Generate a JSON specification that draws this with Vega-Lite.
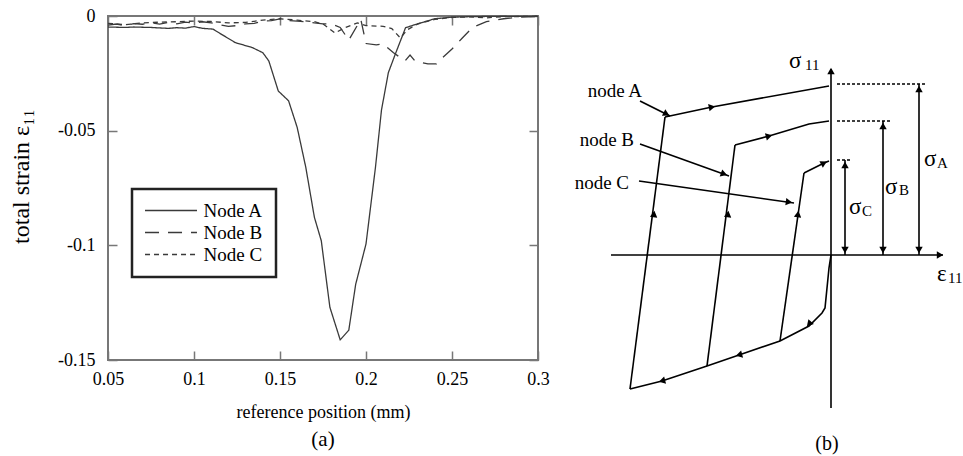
{
  "$schema": "https://vega.github.io/schema/vega-lite/v6.json",
  "background": "white",
  "padding": {"left": 8, "top": 6, "right": 0, "bottom": 0},
  "bounds": "flush",
  "spacing": 20,
  "config": {
    "font": "Liberation Serif",
    "view": {"stroke": "#777777", "strokeWidth": 2},
    "legend": {"strokeWidth": 2.5}
  },
  "datasets": {
    "strain": [
      {"node":"Node A","x":0.05,"y":-0.0048},{"node":"Node A","x":0.055,"y":-0.0049},{"node":"Node A","x":0.06,"y":-0.005},{"node":"Node A","x":0.065,"y":-0.0048},{"node":"Node A","x":0.07,"y":-0.0049},{"node":"Node A","x":0.075,"y":-0.005},{"node":"Node A","x":0.08,"y":-0.0052},{"node":"Node A","x":0.085,"y":-0.0054},{"node":"Node A","x":0.09,"y":-0.0051},{"node":"Node A","x":0.095,"y":-0.0053},{"node":"Node A","x":0.1,"y":-0.0046},{"node":"Node A","x":0.105,"y":-0.0054},{"node":"Node A","x":0.111,"y":-0.0057},{"node":"Node A","x":0.116,"y":-0.008},{"node":"Node A","x":0.124,"y":-0.0116},{"node":"Node A","x":0.134,"y":-0.0138},{"node":"Node A","x":0.14,"y":-0.016},{"node":"Node A","x":0.1435,"y":-0.0196},{"node":"Node A","x":0.149,"y":-0.0327},{"node":"Node A","x":0.155,"y":-0.037},{"node":"Node A","x":0.16,"y":-0.0486},{"node":"Node A","x":0.165,"y":-0.066},{"node":"Node A","x":0.17,"y":-0.0878},{"node":"Node A","x":0.174,"y":-0.098},{"node":"Node A","x":0.179,"y":-0.127},{"node":"Node A","x":0.185,"y":-0.1412},{"node":"Node A","x":0.19,"y":-0.137},{"node":"Node A","x":0.194,"y":-0.117},{"node":"Node A","x":0.2,"y":-0.0994},{"node":"Node A","x":0.2055,"y":-0.066},{"node":"Node A","x":0.209,"y":-0.041},{"node":"Node A","x":0.213,"y":-0.0247},{"node":"Node A","x":0.217,"y":-0.0167},{"node":"Node A","x":0.223,"y":-0.0051},{"node":"Node A","x":0.2305,"y":-0.0033},{"node":"Node A","x":0.24,"y":-0.0012},{"node":"Node A","x":0.25,"y":-0.0005},{"node":"Node A","x":0.26,"y":-0.0003},{"node":"Node A","x":0.27,"y":-0.0002},{"node":"Node A","x":0.28,"y":-0.0001},{"node":"Node A","x":0.29,"y":-0.0002},{"node":"Node A","x":0.3,"y":-0.0001},
      {"node":"Node B","x":0.05,"y":-0.004},{"node":"Node B","x":0.055,"y":-0.0035},{"node":"Node B","x":0.06,"y":-0.0042},{"node":"Node B","x":0.065,"y":-0.0033},{"node":"Node B","x":0.07,"y":-0.0036},{"node":"Node B","x":0.075,"y":-0.003},{"node":"Node B","x":0.08,"y":-0.0035},{"node":"Node B","x":0.085,"y":-0.0028},{"node":"Node B","x":0.09,"y":-0.0034},{"node":"Node B","x":0.095,"y":-0.0027},{"node":"Node B","x":0.1,"y":-0.003},{"node":"Node B","x":0.105,"y":-0.0025},{"node":"Node B","x":0.11,"y":-0.003},{"node":"Node B","x":0.115,"y":-0.0038},{"node":"Node B","x":0.12,"y":-0.0045},{"node":"Node B","x":0.125,"y":-0.0042},{"node":"Node B","x":0.13,"y":-0.0034},{"node":"Node B","x":0.135,"y":-0.0032},{"node":"Node B","x":0.14,"y":-0.0022},{"node":"Node B","x":0.145,"y":-0.002},{"node":"Node B","x":0.15,"y":-0.0013},{"node":"Node B","x":0.155,"y":-0.002},{"node":"Node B","x":0.16,"y":-0.0022},{"node":"Node B","x":0.165,"y":-0.0025},{"node":"Node B","x":0.17,"y":-0.003},{"node":"Node B","x":0.175,"y":-0.0034},{"node":"Node B","x":0.18,"y":-0.0035},{"node":"Node B","x":0.185,"y":-0.005},{"node":"Node B","x":0.19,"y":-0.0105},{"node":"Node B","x":0.197,"y":-0.0015},{"node":"Node B","x":0.2,"y":-0.012},{"node":"Node B","x":0.206,"y":-0.0126},{"node":"Node B","x":0.21,"y":-0.0122},{"node":"Node B","x":0.216,"y":-0.016},{"node":"Node B","x":0.2227,"y":-0.0196},{"node":"Node B","x":0.2256,"y":-0.017},{"node":"Node B","x":0.2285,"y":-0.0196},{"node":"Node B","x":0.236,"y":-0.0209},{"node":"Node B","x":0.241,"y":-0.0209},{"node":"Node B","x":0.243,"y":-0.0192},{"node":"Node B","x":0.25,"y":-0.0144},{"node":"Node B","x":0.256,"y":-0.0096},{"node":"Node B","x":0.262,"y":-0.005},{"node":"Node B","x":0.27,"y":-0.0025},{"node":"Node B","x":0.28,"y":-0.0012},{"node":"Node B","x":0.29,"y":-0.0005},{"node":"Node B","x":0.3,"y":-0.0002},
      {"node":"Node C","x":0.05,"y":-0.0032},{"node":"Node C","x":0.06,"y":-0.0038},{"node":"Node C","x":0.07,"y":-0.003},{"node":"Node C","x":0.08,"y":-0.0027},{"node":"Node C","x":0.09,"y":-0.0025},{"node":"Node C","x":0.1,"y":-0.0022},{"node":"Node C","x":0.11,"y":-0.0024},{"node":"Node C","x":0.12,"y":-0.003},{"node":"Node C","x":0.13,"y":-0.0028},{"node":"Node C","x":0.14,"y":-0.0018},{"node":"Node C","x":0.15,"y":-0.0012},{"node":"Node C","x":0.16,"y":-0.0018},{"node":"Node C","x":0.17,"y":-0.0025},{"node":"Node C","x":0.175,"y":-0.0035},{"node":"Node C","x":0.182,"y":-0.0074},{"node":"Node C","x":0.188,"y":-0.005},{"node":"Node C","x":0.195,"y":-0.003},{"node":"Node C","x":0.2,"y":-0.0042},{"node":"Node C","x":0.21,"y":-0.0045},{"node":"Node C","x":0.215,"y":-0.0055},{"node":"Node C","x":0.22,"y":-0.0096},{"node":"Node C","x":0.224,"y":-0.006},{"node":"Node C","x":0.23,"y":-0.0035},{"node":"Node C","x":0.24,"y":-0.0015},{"node":"Node C","x":0.25,"y":-0.0006},{"node":"Node C","x":0.26,"y":-0.0004},{"node":"Node C","x":0.27,"y":-0.0008},{"node":"Node C","x":0.28,"y":-0.0003},{"node":"Node C","x":0.29,"y":-0.0002},{"node":"Node C","x":0.3,"y":-0.0001}
    ],
    "segs": [
      {"seg":"axisV","kind":"solid","i":0,"e":0,"s":-1.53},{"seg":"axisV","kind":"solid","i":1,"e":0,"s":1.86},
      {"seg":"axisH","kind":"solid","i":0,"e":-2.2,"s":0},{"seg":"axisH","kind":"solid","i":1,"e":1.12,"s":0},
      {"seg":"bottom","kind":"solid","i":0,"e":0,"s":0},{"seg":"bottom","kind":"solid","i":1,"e":-0.02,"s":-0.13},{"seg":"bottom","kind":"solid","i":2,"e":-0.06,"s":-0.53},{"seg":"bottom","kind":"solid","i":3,"e":-0.09,"s":-0.58},{"seg":"bottom","kind":"solid","i":4,"e":-0.22,"s":-0.71},{"seg":"bottom","kind":"solid","i":5,"e":-0.51,"s":-0.86},{"seg":"bottom","kind":"solid","i":6,"e":-0.92,"s":-1.0},{"seg":"bottom","kind":"solid","i":7,"e":-1.24,"s":-1.11},{"seg":"bottom","kind":"solid","i":8,"e":-1.69,"s":-1.26},{"seg":"bottom","kind":"solid","i":9,"e":-2.01,"s":-1.34},
      {"seg":"Aup","kind":"solid","i":0,"e":-2.01,"s":-1.34},{"seg":"Aup","kind":"solid","i":1,"e":-1.66,"s":1.38},
      {"seg":"Atop","kind":"solid","i":0,"e":-1.66,"s":1.38},{"seg":"Atop","kind":"solid","i":1,"e":-1.19,"s":1.48},{"seg":"Atop","kind":"solid","i":2,"e":-0.02,"s":1.69},
      {"seg":"Bup","kind":"solid","i":0,"e":-1.24,"s":-1.11},{"seg":"Bup","kind":"solid","i":1,"e":-0.96,"s":1.1},
      {"seg":"Btop","kind":"solid","i":0,"e":-0.96,"s":1.1},{"seg":"Btop","kind":"solid","i":1,"e":-0.62,"s":1.19},{"seg":"Btop","kind":"solid","i":2,"e":-0.22,"s":1.31},{"seg":"Btop","kind":"solid","i":3,"e":-0.02,"s":1.34},
      {"seg":"Cup","kind":"solid","i":0,"e":-0.51,"s":-0.86},{"seg":"Cup","kind":"solid","i":1,"e":-0.27,"s":0.82},
      {"seg":"Ctop","kind":"solid","i":0,"e":-0.27,"s":0.82},{"seg":"Ctop","kind":"solid","i":1,"e":-0.07,"s":0.92},{"seg":"Ctop","kind":"solid","i":2,"e":-0.02,"s":0.94},
      {"seg":"dA","kind":"dash","i":0,"e":0.06,"s":1.71},{"seg":"dA","kind":"dash","i":1,"e":0.96,"s":1.71},
      {"seg":"dB","kind":"dash","i":0,"e":0.06,"s":1.34},{"seg":"dB","kind":"dash","i":1,"e":0.59,"s":1.34},
      {"seg":"dC","kind":"dash","i":0,"e":0.06,"s":0.95},{"seg":"dC","kind":"dash","i":1,"e":0.19,"s":0.95},
      {"seg":"vA","kind":"solid","i":0,"e":0.88,"s":0},{"seg":"vA","kind":"solid","i":1,"e":0.88,"s":1.71},
      {"seg":"vB","kind":"solid","i":0,"e":0.52,"s":0},{"seg":"vB","kind":"solid","i":1,"e":0.52,"s":1.34},
      {"seg":"vC","kind":"solid","i":0,"e":0.14,"s":0},{"seg":"vC","kind":"solid","i":1,"e":0.14,"s":0.95},
      {"seg":"pA","kind":"solid","i":0,"e":-1.91,"s":1.54},{"seg":"pA","kind":"solid","i":1,"e":-1.61,"s":1.39},
      {"seg":"pB","kind":"solid","i":0,"e":-1.91,"s":1.11},{"seg":"pB","kind":"solid","i":1,"e":-1.02,"s":0.79},
      {"seg":"pC","kind":"solid","i":0,"e":-1.92,"s":0.74},{"seg":"pC","kind":"solid","i":1,"e":-0.37,"s":0.52}
    ],
    "heads": [
      {"e":0,"s":1.84,"h":0},{"e":1.09,"s":0,"h":90},
      {"e":-1.77,"s":0.41,"h":7},{"e":-1.03,"s":0.41,"h":7},{"e":-0.33,"s":0.41,"h":8},
      {"e":-1.19,"s":1.48,"h":79},{"e":-0.62,"s":1.19,"h":75},{"e":-0.07,"s":0.92,"h":63},
      {"e":-0.22,"s":-0.69,"h":222},{"e":-0.92,"s":-1.0,"h":255},{"e":-1.69,"s":-1.26,"h":255},
      {"e":0.88,"s":1.66,"h":0},{"e":0.88,"s":0.05,"h":180},
      {"e":0.52,"s":1.29,"h":0},{"e":0.52,"s":0.05,"h":180},
      {"e":0.14,"s":0.9,"h":0},{"e":0.14,"s":0.05,"h":180},
      {"e":-1.645,"s":1.41,"h":117},{"e":-1.07,"s":0.81,"h":110},{"e":-0.42,"s":0.53,"h":98}
    ],
    "labels": [
      {"t":"node A","role":"node","e":-1.89,"s":1.58},
      {"t":"node B","role":"node","e":-1.97,"s":1.09},
      {"t":"node C","role":"node","e":-2.02,"s":0.66},
      {"t":"σ","role":"main","e":-0.42,"s":1.87},
      {"t":"σ","role":"main","e":0.93,"s":0.89},
      {"t":"σ","role":"main","e":0.54,"s":0.61},
      {"t":"σ","role":"main","e":0.18,"s":0.41},
      {"t":"ε","role":"main","e":1.06,"s":-0.26},
      {"t":"11","role":"sub","e":-0.26,"s":1.85},
      {"t":"A","role":"sub","e":1.06,"s":0.87},
      {"t":"B","role":"sub","e":0.68,"s":0.6},
      {"t":"C","role":"sub","e":0.31,"s":0.39},
      {"t":"11","role":"sub","e":1.17,"s":-0.28},
      {"t":"(b)","role":"cap","e":-0.04,"s":-1.95}
    ]
  },
  "hconcat": [
    {
      "width": 430,
      "height": 344,
      "title": {"text": "(a)", "orient": "bottom", "frame": "group", "anchor": "middle", "fontSize": 21, "fontWeight": "normal", "font": "Liberation Serif", "color": "black", "offset": 8},
      "data": {"name": "strain"},
      "layer": [
        {
          "mark": {"type": "line", "strokeWidth": 1.3, "color": "#3a3a3a"},
          "encoding": {
            "x": {"field": "x", "type": "quantitative",
                  "scale": {"domain": [0.05, 0.3], "nice": false, "zero": false},
                  "axis": {"orient": "bottom", "values": [0.05, 0.1, 0.15, 0.2, 0.25, 0.3], "labelExpr": "'' + datum.value",
                           "tickSize": -9, "tickColor": "#777777", "tickWidth": 1.5, "domain": false, "grid": false,
                           "labelFontSize": 18, "labelFont": "Liberation Serif", "labelColor": "black", "labelPadding": 19, "labelFlush": false,
                           "title": "reference position (mm)", "titleFontSize": 18, "titleFont": "Liberation Serif", "titleFontWeight": "normal", "titleColor": "black",
                           "titleY": 57, "titleBaseline": "alphabetic"}},
            "y": {"field": "y", "type": "quantitative",
                  "scale": {"domain": [-0.15, 0], "nice": false, "zero": false},
                  "axis": {"orient": "left", "values": [0, -0.05, -0.1, -0.15], "labelExpr": "'' + datum.value",
                           "tickSize": -9, "tickColor": "#777777", "tickWidth": 1.5, "domain": false, "grid": false,
                           "labelFontSize": 18, "labelFont": "Liberation Serif", "labelColor": "black", "labelPadding": 22, "labelFlush": false,
                           "title": "total strain ε₁₁", "titleFontSize": 24, "titleFont": "Liberation Serif", "titleFontWeight": "normal", "titleColor": "black",
                           "titleX": -87, "titleY": 160, "titleBaseline": "middle", "titleAngle": -90}},
            "strokeDash": {"field": "node", "type": "nominal",
                           "scale": {"domain": ["Node A", "Node B", "Node C"], "range": [[1, 0], [14, 9], [5, 4]]},
                           "legend": {"title": null, "orient": "none", "legendX": 24, "legendY": 173,
                                      "symbolType": "M-3,0H3", "symbolSize": 300, "symbolStrokeWidth": 1.5, "symbolStrokeColor": "#3a3a3a",
                                      "symbolOffset": 17.5, "labelOffset": 23, "labelFontSize": 19, "labelFont": "Liberation Serif", "labelColor": "black",
                                      "padding": 12, "rowPadding": 2, "strokeColor": "#222222", "fillColor": "white"}}
          }
        },
        {
          "mark": {"type": "point", "opacity": 0},
          "encoding": {
            "x": {"field": "x", "type": "quantitative",
                  "axis": {"orient": "top", "values": [0.05, 0.1, 0.15, 0.2, 0.25, 0.3], "labels": false, "tickSize": -9, "tickColor": "#777777", "tickWidth": 1.5, "domain": false, "grid": false, "title": null}},
            "y": {"field": "y", "type": "quantitative",
                  "axis": {"orient": "right", "values": [0, -0.05, -0.1, -0.15], "labels": false, "tickSize": -9, "tickColor": "#777777", "tickWidth": 1.5, "domain": false, "grid": false, "title": null}}
          }
        }
      ],
      "resolve": {"axis": {"x": "independent", "y": "independent"}}
    },
    {
      "width": 407,
      "height": 441,
      "view": {"stroke": null},
      "layer": [
        {
          "data": {"name": "segs"},
          "transform": [{"filter": "datum.kind == 'solid'"}],
          "mark": {"type": "line", "color": "black", "strokeWidth": 1.6},
          "encoding": {
            "x": {"field": "e", "type": "quantitative", "scale": {"domain": [-2.73, 1.34], "nice": false, "zero": false}, "axis": null},
            "y": {"field": "s", "type": "quantitative", "scale": {"domain": [-2.02, 2.39], "nice": false, "zero": false}, "axis": null},
            "detail": {"field": "seg", "type": "nominal"},
            "order": {"field": "i", "type": "quantitative"}
          }
        },
        {
          "data": {"name": "segs"},
          "transform": [{"filter": "datum.kind == 'dash'"}],
          "mark": {"type": "line", "color": "black", "strokeWidth": 1.4, "strokeDash": [3, 2]},
          "encoding": {
            "x": {"field": "e", "type": "quantitative", "scale": {"domain": [-2.73, 1.34], "nice": false, "zero": false}, "axis": null},
            "y": {"field": "s", "type": "quantitative", "scale": {"domain": [-2.02, 2.39], "nice": false, "zero": false}, "axis": null},
            "detail": {"field": "seg", "type": "nominal"},
            "order": {"field": "i", "type": "quantitative"}
          }
        },
        {
          "data": {"name": "heads"},
          "mark": {"type": "point", "shape": "triangle-up", "filled": true, "size": 55, "color": "black", "opacity": 1},
          "encoding": {
            "x": {"field": "e", "type": "quantitative", "scale": {"domain": [-2.73, 1.34], "nice": false, "zero": false}, "axis": null},
            "y": {"field": "s", "type": "quantitative", "scale": {"domain": [-2.02, 2.39], "nice": false, "zero": false}, "axis": null},
            "angle": {"field": "h", "type": "quantitative", "scale": {"domain": [0, 360], "range": [0, 360]}}
          }
        },
        {
          "data": {"name": "labels"},
          "transform": [{"filter": "datum.role == 'node'"}],
          "mark": {"type": "text", "align": "right", "baseline": "alphabetic", "fontSize": 19, "font": "Liberation Serif", "color": "black"},
          "encoding": {
            "x": {"field": "e", "type": "quantitative", "scale": {"domain": [-2.73, 1.34], "nice": false, "zero": false}, "axis": null},
            "y": {"field": "s", "type": "quantitative", "scale": {"domain": [-2.02, 2.39], "nice": false, "zero": false}, "axis": null},
            "text": {"field": "t", "type": "nominal"}
          }
        },
        {
          "data": {"name": "labels"},
          "transform": [{"filter": "datum.role == 'main'"}],
          "mark": {"type": "text", "align": "left", "baseline": "alphabetic", "fontSize": 23, "font": "Liberation Serif", "color": "black"},
          "encoding": {
            "x": {"field": "e", "type": "quantitative", "scale": {"domain": [-2.73, 1.34], "nice": false, "zero": false}, "axis": null},
            "y": {"field": "s", "type": "quantitative", "scale": {"domain": [-2.02, 2.39], "nice": false, "zero": false}, "axis": null},
            "text": {"field": "t", "type": "nominal"}
          }
        },
        {
          "data": {"name": "labels"},
          "transform": [{"filter": "datum.role == 'sub'"}],
          "mark": {"type": "text", "align": "left", "baseline": "alphabetic", "fontSize": 15, "font": "Liberation Serif", "color": "black"},
          "encoding": {
            "x": {"field": "e", "type": "quantitative", "scale": {"domain": [-2.73, 1.34], "nice": false, "zero": false}, "axis": null},
            "y": {"field": "s", "type": "quantitative", "scale": {"domain": [-2.02, 2.39], "nice": false, "zero": false}, "axis": null},
            "text": {"field": "t", "type": "nominal"}
          }
        },
        {
          "data": {"name": "labels"},
          "transform": [{"filter": "datum.role == 'cap'"}],
          "mark": {"type": "text", "align": "center", "baseline": "alphabetic", "fontSize": 20, "font": "Liberation Serif", "color": "black"},
          "encoding": {
            "x": {"field": "e", "type": "quantitative", "scale": {"domain": [-2.73, 1.34], "nice": false, "zero": false}, "axis": null},
            "y": {"field": "s", "type": "quantitative", "scale": {"domain": [-2.02, 2.39], "nice": false, "zero": false}, "axis": null},
            "text": {"field": "t", "type": "nominal"}
          }
        }
      ]
    }
  ]
}
